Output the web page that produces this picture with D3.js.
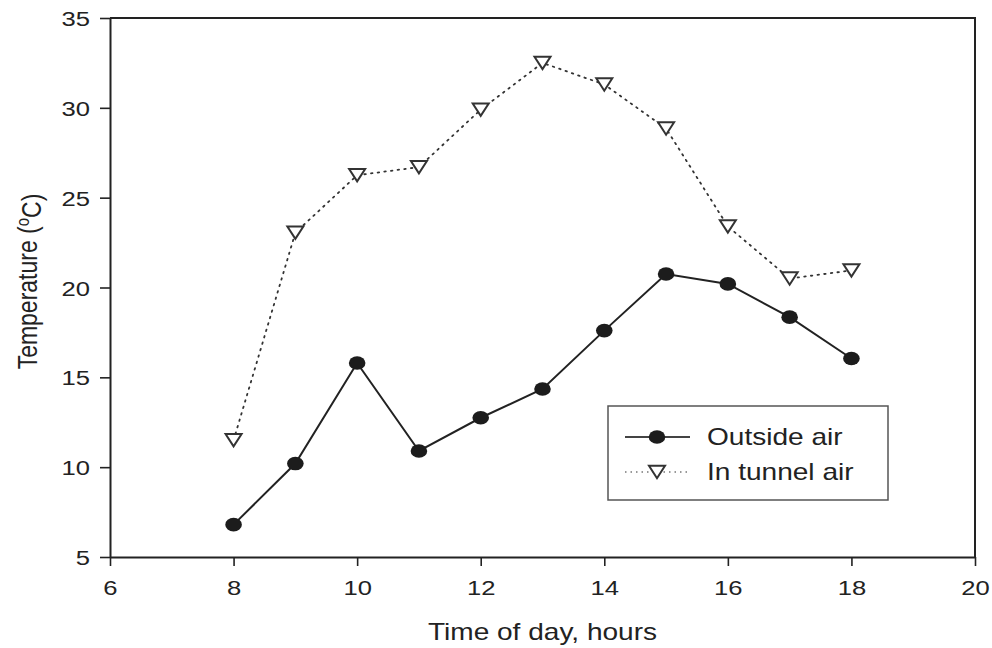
<!DOCTYPE html>
<html>
<head>
<meta charset="utf-8">
<script src="https://cdn.jsdelivr.net/npm/d3@7"></script>
<style>
  html, body { margin: 0; padding: 0; background: #fff; }
  svg { display: block; }
  text { font-family: "Liberation Sans", Arial, Helvetica, sans-serif; fill: #222; }
</style>
</head>
<body>
<div id="chart"></div>
<script>
// Hourly air temperatures, outside vs. inside the tunnel
const hours = [8, 9, 10, 11, 12, 13, 14, 15, 16, 17, 18];
const outsideAir = [6.8, 10.2, 15.8, 10.9, 12.75, 14.35, 17.6, 20.75, 20.2, 18.35, 16.05];
const tunnelAir = [11.5, 23.05, 26.25, 26.7, 29.9, 32.5, 31.3, 28.85, 23.4, 20.5, 20.95];
const xTicks = [6, 8, 10, 12, 14, 16, 18, 20];
const yTicks = [5, 10, 15, 20, 25, 30, 35];
const seriesNames = ["Outside air", "In tunnel air"];

const W = 992, H = 648;
const sx = 1.22; // horizontal text stretch
const margin = { left: 110, right: 17, top: 18, bottom: 91 };

const svg = d3.select("#chart").append("svg")
  .attr("width", W).attr("height", H);

const x = d3.scaleLinear().domain([6, 20]).range([margin.left, W - margin.right]);
const y = d3.scaleLinear().domain([5, 35]).range([H - margin.bottom, margin.top]);

const ink = "#222";

// Frame: top and right borders
svg.append("path")
  .attr("d", `M${x(6)},${y(35)}H${x(20)}V${y(5)}`)
  .attr("fill", "none").attr("stroke", ink).attr("stroke-width", 2);

// Bottom axis
const xAxis = svg.append("g")
  .attr("transform", `translate(0,${y(5)})`)
  .call(d3.axisBottom(x).tickValues(xTicks).tickSize(9).tickSizeOuter(0).tickPadding(0));
xAxis.select(".domain").attr("stroke", ink).attr("stroke-width", 2);
xAxis.selectAll(".tick line").attr("stroke", ink).attr("stroke-width", 1.6);
xAxis.selectAll(".tick text")
  .attr("y", 38).attr("dy", null)
  .attr("font-size", 21)
  .attr("transform", `scale(${sx},1)`);

// Left axis
const yAxis = svg.append("g")
  .attr("transform", `translate(${x(6)},0)`)
  .call(d3.axisLeft(y).tickValues(yTicks).tickSize(10).tickSizeOuter(0).tickPadding(0));
yAxis.select(".domain").attr("stroke", ink).attr("stroke-width", 2);
yAxis.selectAll(".tick line").attr("stroke", ink).attr("stroke-width", 1.6);
yAxis.selectAll(".tick text")
  .attr("x", -20 / sx).attr("dy", "0.36em")
  .attr("font-size", 21)
  .attr("transform", `scale(${sx},1)`);

// Axis titles
svg.append("g")
  .attr("transform", `translate(${(x(6) + x(20)) / 2},640) scale(${sx},1)`)
  .append("text")
  .attr("text-anchor", "middle")
  .attr("font-size", 23)
  .text("Time of day, hours");

const yTitle = svg.append("g")
  .attr("transform", `translate(37,${(y(5) + y(35)) / 2 - 6}) scale(${sx},1) rotate(-90)`)
  .append("text")
  .attr("text-anchor", "middle")
  .attr("font-size", 23);
yTitle.append("tspan").text("Temperature (");
yTitle.append("tspan").attr("dy", "-0.45em").attr("font-size", 15).text("o");
yTitle.append("tspan").attr("dy", "0.45em").text("C)");

// Marker shapes
const rx = 8.3, ry = 6.8;
function triPath(cx, cy) {
  const w = 8, h = 6.2;
  return `M${cx - w},${cy - h}L${cx + w},${cy - h}L${cx},${cy + h}Z`;
}

const outside = hours.map((h, i) => ({ h, v: outsideAir[i] }));
const tunnel = hours.map((h, i) => ({ h, v: tunnelAir[i] }));

const line = d3.line().x(d => x(d.h)).y(d => y(d.v));

// In-tunnel series: dotted line, open down-triangles
svg.append("path")
  .attr("d", line(tunnel))
  .attr("fill", "none").attr("stroke", "#333")
  .attr("stroke-width", 1.8).attr("stroke-dasharray", "1.5,5.2")
  .attr("stroke-linecap", "round");
svg.append("g").selectAll("path")
  .data(tunnel).join("path")
  .attr("d", d => triPath(x(d.h), y(d.v)))
  .attr("fill", "#fff").attr("stroke", "#333").attr("stroke-width", 2);

// Outside series: solid line, filled circles
svg.append("path")
  .attr("d", line(outside))
  .attr("fill", "none").attr("stroke", ink).attr("stroke-width", 2);
svg.append("g").selectAll("ellipse")
  .data(outside).join("ellipse")
  .attr("cx", d => x(d.h)).attr("cy", d => y(d.v))
  .attr("rx", rx).attr("ry", ry)
  .attr("fill", "#1c1c1c");

// Legend
const lg = svg.append("g");
lg.append("rect")
  .attr("x", 608).attr("y", 406).attr("width", 280).attr("height", 94)
  .attr("fill", "#fff").attr("stroke", "#555").attr("stroke-width", 1.5);

const rows = [437, 472];
lg.append("line").attr("x1", 625).attr("x2", 690).attr("y1", rows[0]).attr("y2", rows[0])
  .attr("stroke", "#444").attr("stroke-width", 2);
lg.append("ellipse").attr("cx", 657).attr("cy", rows[0]).attr("rx", rx).attr("ry", ry)
  .attr("fill", "#1c1c1c");
lg.append("line").attr("x1", 625).attr("x2", 690).attr("y1", rows[1]).attr("y2", rows[1])
  .attr("stroke", "#777").attr("stroke-width", 1.4).attr("stroke-dasharray", "1.5,4");
lg.append("path").attr("d", triPath(657, rows[1]))
  .attr("fill", "#fff").attr("stroke", "#333").attr("stroke-width", 2);

seriesNames.forEach((name, i) => {
  lg.append("g")
    .attr("transform", `translate(707,${rows[i] + 8}) scale(${sx},1)`)
    .append("text").attr("font-size", 23).text(name);
});
</script>
</body>
</html>
